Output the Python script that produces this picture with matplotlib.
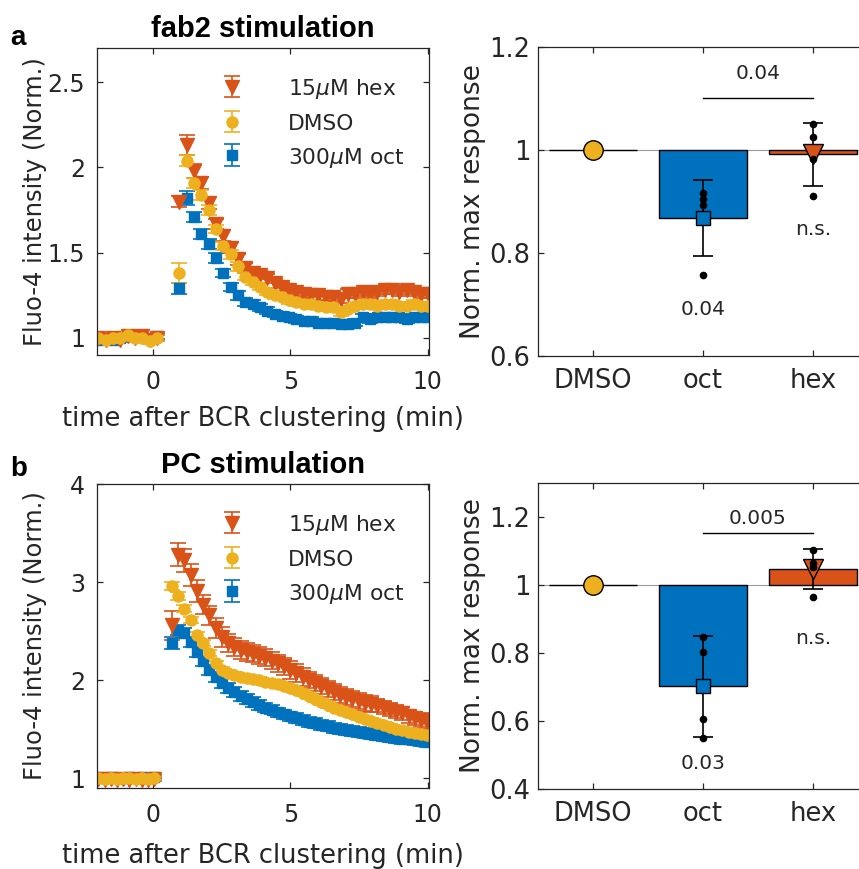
import numpy as np
import matplotlib
matplotlib.use('Agg')
import matplotlib.pyplot as plt
from matplotlib.ticker import FuncFormatter

plt.rcParams['font.family'] = ['DejaVu Sans']
plt.rcParams['mathtext.fontset'] = 'dejavusans'

# ---------------- data ----------------
series_labels = ['15$\\mu$M hex', 'DMSO', '300$\\mu$M oct']

# fab2 stimulation time course
t_fab2 = [-2.0, -1.73, -1.47, -1.2, -0.93, -0.67, -0.4, -0.13, 0.13,
          0.95, 1.22, 1.48, 1.75, 2.02, 2.29, 2.55, 2.82, 3.09, 3.35,
          3.62, 3.89, 4.15, 4.42, 4.69, 4.96, 5.22, 5.49, 5.76, 6.02,
          6.29, 6.56, 6.83, 7.09, 7.36, 7.63, 7.89, 8.16, 8.43, 8.70,
          8.96, 9.23, 9.50, 9.76, 10.03]
fab2_hex = [1.00, 0.99, 1.00, 0.99, 1.01, 1.00, 1.01, 0.99, 1.00,
            1.80, 2.13, 1.98, 1.91, 1.79, 1.67, 1.60, 1.53, 1.46, 1.41,
            1.38, 1.37, 1.35, 1.32, 1.30, 1.28, 1.27, 1.26, 1.25, 1.25,
            1.24, 1.24, 1.23, 1.26, 1.26, 1.27, 1.26, 1.27, 1.28, 1.28,
            1.27, 1.28, 1.27, 1.26, 1.26]
fab2_hex_err = [0.015, 0.015, 0.015, 0.015, 0.015, 0.015, 0.015, 0.015, 0.015,
                0.03, 0.06, 0.04, 0.035, 0.035, 0.03, 0.03, 0.03, 0.03, 0.03,
                0.025, 0.025, 0.025, 0.025, 0.025, 0.025, 0.025, 0.025, 0.025, 0.025,
                0.025, 0.025, 0.025, 0.025, 0.025, 0.025, 0.025, 0.025, 0.025, 0.025,
                0.025, 0.025, 0.025, 0.025, 0.025]
fab2_dmso = [1.00, 0.99, 1.00, 1.00, 1.02, 1.00, 1.00, 0.98, 1.00,
             1.38, 2.04, 1.91, 1.84, 1.75, 1.64, 1.54, 1.49, 1.42, 1.36,
             1.33, 1.30, 1.27, 1.25, 1.24, 1.22, 1.21, 1.20, 1.20, 1.19,
             1.18, 1.18, 1.15, 1.17, 1.19, 1.20, 1.20, 1.19, 1.20, 1.20,
             1.19, 1.19, 1.20, 1.19, 1.19]
fab2_dmso_err = [0.015, 0.015, 0.015, 0.015, 0.015, 0.015, 0.015, 0.015, 0.015,
                 0.06, 0.03, 0.03, 0.03, 0.03, 0.025, 0.025, 0.025, 0.025, 0.02,
                 0.02, 0.02, 0.02, 0.02, 0.02, 0.02, 0.02, 0.02, 0.02, 0.02,
                 0.02, 0.02, 0.02, 0.02, 0.02, 0.02, 0.02, 0.02, 0.02, 0.02,
                 0.02, 0.02, 0.02, 0.02, 0.02]
fab2_oct = [0.99, 1.00, 0.99, 1.00, 1.01, 1.02, 1.01, 1.00, 1.01,
            1.29, 1.82, 1.71, 1.61, 1.55, 1.47, 1.38, 1.30, 1.25, 1.21,
            1.20, 1.18, 1.16, 1.14, 1.13, 1.12, 1.11, 1.10, 1.10, 1.09,
            1.09, 1.09, 1.08, 1.08, 1.09, 1.12, 1.11, 1.12, 1.12, 1.12,
            1.12, 1.11, 1.12, 1.12, 1.12]
fab2_oct_err = [0.015, 0.015, 0.015, 0.015, 0.015, 0.015, 0.015, 0.015, 0.015,
                0.03, 0.04, 0.03, 0.03, 0.03, 0.03, 0.025, 0.025, 0.025, 0.025,
                0.02, 0.02, 0.02, 0.02, 0.02, 0.02, 0.02, 0.02, 0.02, 0.02,
                0.02, 0.02, 0.02, 0.02, 0.02, 0.02, 0.02, 0.02, 0.02, 0.02,
                0.02, 0.02, 0.02, 0.02, 0.02]

# PC stimulation time course
t_pc = [-2.0, -1.77, -1.55, -1.32, -1.09, -0.87, -0.64, -0.41, -0.18, 0.04,
        0.68, 0.91, 1.13, 1.36, 1.59, 1.82, 2.04, 2.27, 2.50, 2.72,
        2.95, 3.18, 3.40, 3.63, 3.86, 4.09, 4.31, 4.54, 4.77, 4.99,
        5.22, 5.45, 5.67, 5.90, 6.13, 6.36, 6.58, 6.81, 7.04, 7.26,
        7.49, 7.72, 7.94, 8.17, 8.40, 8.63, 8.85, 9.08, 9.31, 9.53,
        9.76, 9.99]
pc_hex = [0.99, 0.98, 0.99, 0.98, 0.99, 0.98, 0.99, 0.98, 0.98, 0.99,
          2.56, 3.28, 3.22, 3.07, 2.91, 2.77, 2.66, 2.53, 2.44, 2.38,
          2.34, 2.31, 2.29, 2.27, 2.25, 2.23, 2.20, 2.17, 2.14, 2.10,
          2.07, 2.03, 2.00, 1.97, 1.94, 1.91, 1.88, 1.85, 1.83, 1.81,
          1.79, 1.77, 1.76, 1.74, 1.72, 1.70, 1.68, 1.66, 1.63, 1.61,
          1.59, 1.57]
pc_hex_err = [0.02, 0.02, 0.02, 0.02, 0.02, 0.02, 0.02, 0.02, 0.02, 0.02,
              0.15, 0.12, 0.12, 0.11, 0.11, 0.10, 0.10, 0.10, 0.10, 0.09,
              0.09, 0.09, 0.09, 0.09, 0.09, 0.09, 0.09, 0.09, 0.09, 0.09,
              0.09, 0.09, 0.08, 0.08, 0.08, 0.08, 0.08, 0.08, 0.08, 0.08,
              0.08, 0.08, 0.08, 0.07, 0.07, 0.07, 0.07, 0.07, 0.07, 0.07,
              0.07, 0.07]
pc_dmso = [1.00, 0.99, 1.00, 0.99, 1.00, 1.00, 0.99, 1.00, 0.99, 1.00,
           2.96, 2.86, 2.73, 2.61, 2.46, 2.38, 2.28, 2.17, 2.10, 2.07,
           2.05, 2.03, 2.02, 2.01, 2.00, 1.98, 1.97, 1.96, 1.94, 1.92,
           1.90, 1.87, 1.84, 1.81, 1.78, 1.75, 1.72, 1.70, 1.67, 1.65,
           1.62, 1.60, 1.58, 1.56, 1.54, 1.52, 1.50, 1.49, 1.47, 1.46,
           1.45, 1.44]
pc_dmso_err = [0.02, 0.02, 0.02, 0.02, 0.02, 0.02, 0.02, 0.02, 0.02, 0.02,
               0.04, 0.04, 0.04, 0.03, 0.03, 0.03, 0.03, 0.03, 0.03, 0.03,
               0.03, 0.03, 0.03, 0.03, 0.03, 0.03, 0.03, 0.03, 0.03, 0.03,
               0.03, 0.03, 0.03, 0.03, 0.03, 0.03, 0.03, 0.03, 0.03, 0.03,
               0.03, 0.03, 0.03, 0.03, 0.03, 0.03, 0.03, 0.03, 0.03, 0.03,
               0.03, 0.03]
pc_oct = [1.01, 1.00, 1.01, 1.00, 1.00, 1.01, 1.00, 1.01, 1.00, 1.01,
          2.38, 2.51, 2.48, 2.39, 2.29, 2.19, 2.10, 2.03, 1.97, 1.92,
          1.88, 1.84, 1.81, 1.78, 1.75, 1.72, 1.70, 1.67, 1.65, 1.63,
          1.61, 1.59, 1.57, 1.56, 1.54, 1.53, 1.51, 1.50, 1.49, 1.48,
          1.47, 1.46, 1.45, 1.44, 1.43, 1.42, 1.41, 1.40, 1.40, 1.39,
          1.38, 1.37]
pc_oct_err = [0.02, 0.02, 0.02, 0.02, 0.02, 0.02, 0.02, 0.02, 0.02, 0.02,
              0.06, 0.05, 0.05, 0.05, 0.05, 0.05, 0.05, 0.05, 0.05, 0.05,
              0.05, 0.05, 0.05, 0.05, 0.05, 0.05, 0.05, 0.05, 0.05, 0.05,
              0.05, 0.05, 0.05, 0.05, 0.05, 0.05, 0.05, 0.05, 0.05, 0.05,
              0.05, 0.05, 0.05, 0.05, 0.05, 0.05, 0.05, 0.05, 0.05, 0.05,
              0.05, 0.05]

# normalised max response (bar charts)
groups = ['DMSO', 'oct', 'hex']
fab2_max_mean = [1.0, 0.868, 0.992]
fab2_max_err = [0.0, 0.073, 0.061]
fab2_max_pts = [[1.0], [0.917, 0.905, 0.893, 0.757], [1.050, 1.026, 0.982, 0.911]]
fab2_p_vs_dmso = ['', '0.04', 'n.s.']
fab2_p_oct_hex = '0.04'

pc_max_mean = [1.0, 0.702, 1.047]
pc_max_err = [0.0, 0.148, 0.058]
pc_max_pts = [[1.0], [0.848, 0.804, 0.606, 0.550], [1.103, 1.066, 1.053, 0.965]]
pc_p_vs_dmso = ['', '0.03', 'n.s.']
pc_p_oct_hex = '0.005'

# ---------------- style ----------------
C_BLUE = '#0072BD'
C_ORANGE = '#D95319'
C_YELLOW = '#EDB120'
AX_COLOR = '#262626'
BOLD_FAM = ['Liberation Sans', 'DejaVu Sans']

W, H = 859, 869
fig = plt.figure(figsize=(W / 100, H / 100), dpi=100)


def px_axes(l, t, r, b):
    return fig.add_axes([l / W, 1 - b / H, (r - l) / W, (b - t) / H])


fmt = FuncFormatter(lambda v, p: '%g' % round(v, 6))


def style(ax, tick_fs, xpad, ypad):
    for s in ax.spines.values():
        s.set_color(AX_COLOR)
        s.set_linewidth(0.9)
    ax.tick_params(direction='in', top=True, right=True, length=4,
                   width=0.9, color=AX_COLOR, labelcolor=AX_COLOR,
                   labelsize=tick_fs)
    ax.tick_params(axis='x', pad=xpad)
    ax.tick_params(axis='y', pad=ypad)
    ax.yaxis.set_major_formatter(fmt)


def time_panel(ax, t, hex_, hex_e, dm, dm_e, oc, oc_e, ylim, yticks, title,
               xlab_y, leg_y):
    kw = dict(elinewidth=1.2, capthick=1.2, capsize=5.5, linestyle='none')
    h_oct = ax.errorbar(t, oc, yerr=oc_e, fmt='s', color=C_BLUE, ms=7.5, **kw)
    h_hex = ax.errorbar(t, hex_, yerr=hex_e, fmt='v', color=C_ORANGE, ms=9.5, **kw)
    h_dm = ax.errorbar(t, dm, yerr=dm_e, fmt='o', color=C_YELLOW, ms=8, **kw)
    ax.set_xlim(-2.05, 10.05)
    ax.set_ylim(*ylim)
    ax.set_xticks([0, 5, 10])
    ax.set_yticks(yticks)
    style(ax, 17, 11, 8.5)
    ax.set_xlabel('time after BCR clustering (min)', fontsize=18.5,
                  color=AX_COLOR, va='top')
    ax.xaxis.set_label_coords(0.5, xlab_y)
    ax.set_ylabel('Fluo-4 intensity (Norm.)', fontsize=17.5, color=AX_COLOR)
    ax.yaxis.set_label_coords(-0.151, 0.5)
    ax.set_title(title, fontsize=21, fontweight='bold', family=BOLD_FAM, pad=8)
    leg = ax.legend([h_hex, h_dm, h_oct], series_labels, loc='upper left',
                    bbox_to_anchor=(0.354, leg_y), frameon=False,
                    fontsize=15.7, handlelength=1.6, handletextpad=1.75,
                    labelspacing=0.54, borderpad=0, borderaxespad=0,
                    handleheight=1.0)
    for txt in leg.get_texts():
        txt.set_color(AX_COLOR)


def bar_panel(ax, mean, err, pts, pvals, p_bracket, ylim, yticks,
              y_bracket, y_ptext, y_below, y_ns):
    x = np.arange(1, len(groups) + 1)
    cols = [C_YELLOW, C_BLUE, C_ORANGE]
    markers = ['o', 's', 'v']
    msz = [14, 10.5, 15]
    ax.axhline(1, color='#9a9a9a', lw=0.8, zorder=1)
    heights = [m - 1 for m in mean]
    ax.bar(x, heights, bottom=1, width=0.8, color=cols, edgecolor='black',
           linewidth=1.0, zorder=2)
    for i in range(len(groups)):
        if err[i] > 0:
            ax.errorbar(x[i], mean[i], yerr=err[i], fmt='none', ecolor='black',
                        elinewidth=1.2, capsize=7.5, capthick=1.2, zorder=3)
        ax.plot(x[i], mean[i], marker=markers[i], ms=msz[i], mfc=cols[i],
                mec='black', mew=1.0, linestyle='none', zorder=4)
        if i > 0:
            ax.plot([x[i]] * len(pts[i]), pts[i], 'o', color='black', ms=4.5,
                    zorder=5)
    ax.set_xlim(0.5, 3.5)
    ax.set_ylim(*ylim)
    ax.set_xticks(x)
    ax.set_xticklabels(groups)
    ax.set_yticks(yticks)
    style(ax, 18.5, 8.5, 5.5)
    ax.set_ylabel('Norm. max response', fontsize=19, color=AX_COLOR)
    ax.yaxis.set_label_coords(-0.158, 0.5)
    ax.plot([x[1], x[2]], [y_bracket, y_bracket], color='black', lw=1.0)
    ax.text((x[1] + x[2]) / 2, y_ptext, p_bracket, ha='center', va='center',
            fontsize=14.5, color=AX_COLOR)
    ax.text(x[1], y_below, pvals[1], ha='center', va='center', fontsize=14.5,
            color=AX_COLOR)
    ax.text(x[2], y_ns, pvals[2], ha='center', va='center', fontsize=14.5,
            color=AX_COLOR)


ax1 = px_axes(97, 48, 429, 355)
time_panel(ax1, t_fab2, fab2_hex, fab2_hex_err, fab2_dmso, fab2_dmso_err,
           fab2_oct, fab2_oct_err, (0.9, 2.7), [1, 1.5, 2, 2.5],
           'fab2 stimulation', -0.166, 0.905)

ax2 = px_axes(538, 47, 868, 356)
bar_panel(ax2, fab2_max_mean, fab2_max_err, fab2_max_pts, fab2_p_vs_dmso,
          fab2_p_oct_hex, (0.6, 1.2), [0.6, 0.8, 1, 1.2],
          1.10, 1.148, 0.69, 0.845)

ax3 = px_axes(97, 484, 429, 788)
time_panel(ax3, t_pc, pc_hex, pc_hex_err, pc_dmso, pc_dmso_err,
           pc_oct, pc_oct_err, (0.9, 4.0), [1, 2, 3, 4], 'PC stimulation',
           -0.181, 0.904)

ax4 = px_axes(538, 483, 868, 789)
bar_panel(ax4, pc_max_mean, pc_max_err, pc_max_pts, pc_p_vs_dmso,
          pc_p_oct_hex, (0.4, 1.3), [0.4, 0.6, 0.8, 1, 1.2],
          1.153, 1.197, 0.476, 0.844)

fig.text(10 / W, 1 - 45 / H, 'a', fontsize=20, fontweight='bold',
         family=BOLD_FAM, va='baseline')
fig.text(10 / W, 1 - 476 / H, 'b', fontsize=20, fontweight='bold',
         family=BOLD_FAM, va='baseline')

fig.savefig('out.png', dpi=100)
